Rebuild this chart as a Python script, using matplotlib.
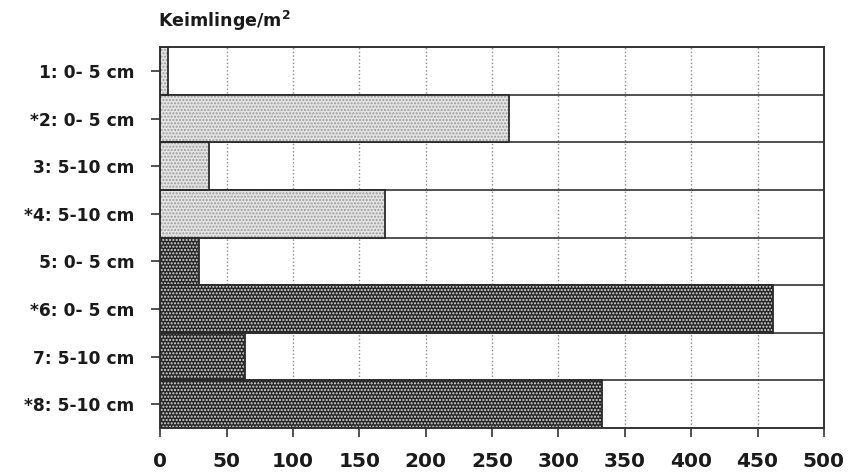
import matplotlib
matplotlib.use("Agg")
import matplotlib.pyplot as plt

plt.rcParams['font.family'] = ['DejaVu Sans']
plt.rcParams['font.weight'] = 'bold'
plt.rcParams['hatch.linewidth'] = 1.0

labels = ['1: 0- 5 cm', '*2: 0- 5 cm', '3: 5-10 cm', '*4: 5-10 cm',
          '5: 0- 5 cm', '*6: 0- 5 cm', '7: 5-10 cm', '*8: 5-10 cm']
values = [6, 263, 37, 169, 29, 462, 64, 333]
xticks = [0, 50, 100, 150, 200, 250, 300, 350, 400, 450, 500]

fig = plt.figure(figsize=(8.52, 4.76), dpi=100)
ax = fig.add_axes([0.188, 0.101, 0.779, 0.800])

pos = list(range(len(values)))
light = dict(fc='#e4e4e4', hc='#9a9a9a', hatch='.....')
dark = dict(fc='#262626', hc='#dcdcdc', hatch='.....')
for i, v in enumerate(values):
    st = light if i < 4 else dark
    ax.barh(i, v, height=1.0, color=st['fc'], linewidth=0, zorder=2)
    ax.barh(i, v, height=1.0, facecolor='none', edgecolor=st['hc'],
            hatch=st['hatch'], linewidth=0, zorder=3)
    ax.barh(i, v, height=1.0, facecolor='none', edgecolor='#2a2a2a',
            linewidth=1.3, zorder=4)

for b in range(1, len(values)):
    ax.axhline(b - 0.5, color='#333333', lw=1.2, zorder=1)

ax.set_xlim(0, 500)
ax.set_ylim(len(values) - 0.5, -0.5)
ax.set_xticks(xticks)
ax.set_xticklabels([str(t) for t in xticks], fontsize=14.5, fontweight='bold', color='#1a1a1a')
ax.set_yticks(pos)
ax.set_yticklabels(labels, fontsize=12.3, fontweight='bold', color='#1a1a1a')
ax.tick_params(axis='both', direction='out', length=6.5, width=1.2, color='#333333')
ax.tick_params(axis='x', pad=11)
ax.tick_params(axis='y', pad=12)
ax.xaxis.grid(True, linestyle=':', color='#888888', lw=1.0, zorder=0)
ax.set_axisbelow(True)
for s in ax.spines.values():
    s.set_linewidth(1.4)
    s.set_color('#333333')

fig.text(0.186, 0.943, 'Keimlinge/m$^\\mathbf{2}$', fontsize=12.6, fontweight='bold',
         color='#1a1a1a', va='baseline')

fig.savefig('out.png', dpi=100)
